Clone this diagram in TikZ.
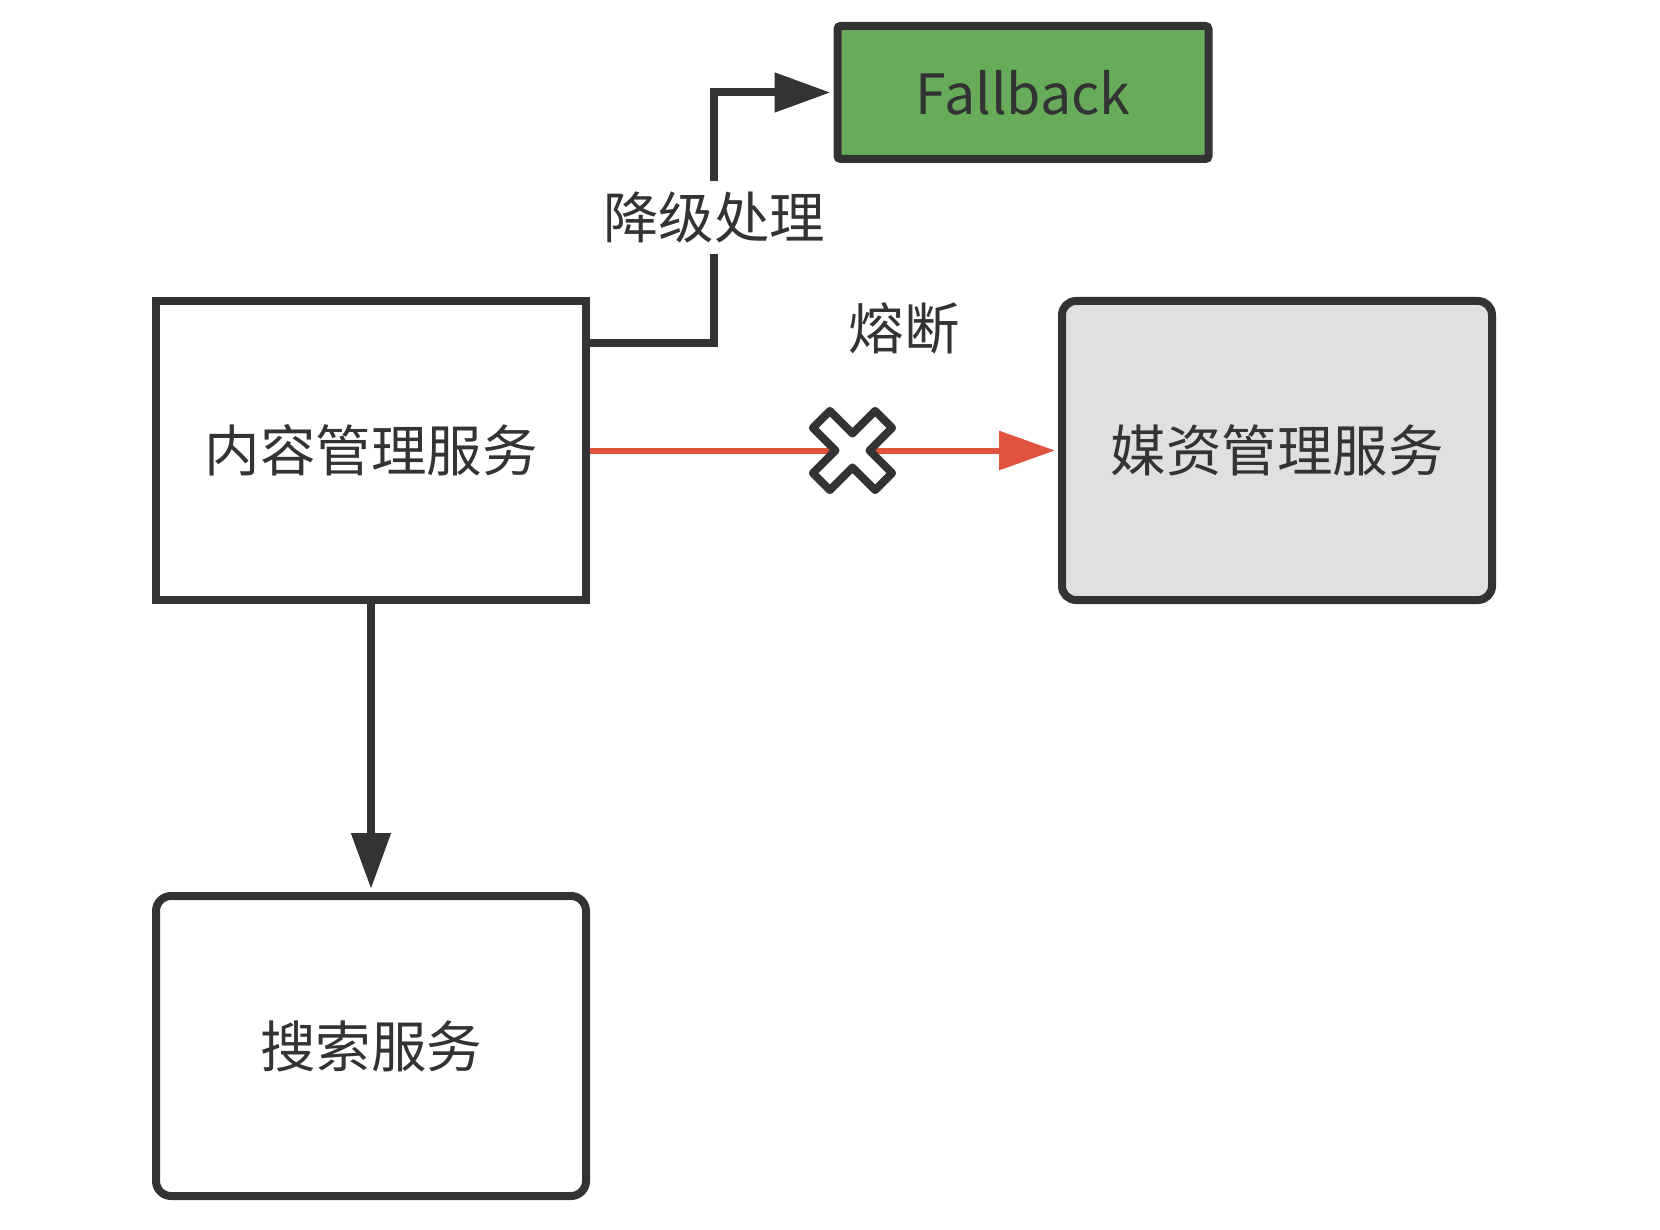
\documentclass[tikz,border=0pt]{standalone}
\usepackage{fontspec}
\setmainfont{Noto Sans CJK SC}
\usetikzlibrary{arrows.meta}
\definecolor{linegray}{HTML}{333333}
\definecolor{cutred}{HTML}{E0533F}
\definecolor{fbgreen}{HTML}{67AB5B}
\definecolor{mediagray}{HTML}{E0E0E0}
\newcommand{\bigtext}{\fontsize{55.5}{64}\selectfont}

\begin{document}
\begin{tikzpicture}[x=1pt,y=-1pt,
    box/.style={draw=linegray,line width=8pt,inner sep=0pt,minimum width=430pt,minimum height=299pt,text=linegray,font=\bigtext},
    conn/.style={draw=linegray,line width=8pt,shorten >=3pt,-{Triangle[length=56pt,width=38pt]}},
    label/.style={fill=white,text=linegray,font=\bigtext,inner xsep=2pt,inner ysep=11pt}]

      \useasboundingbox (0,0) rectangle (1660,1230);

      \begin{scope}[every node/.style={box}]
        \node (nr) at (371,450.5) {内容管理服务};
        \node[rounded corners=14pt,fill=mediagray] (mz) at (1277,450.5) {媒资管理服务};
        \node[rounded corners=15pt,minimum height=300pt] (ss) at (371,1046) {搜索服务};
        \node[rounded corners=3pt,fill=fbgreen,minimum width=371pt,minimum height=133pt] (fb) at (1023,92.5) {Fallback};
      \end{scope}

      \coordinate (cut) at (852.5,450.5);

      \begin{scope}[every node/.style={label}]
        \path (nr) edge[conn] (ss);
        \path (nr) edge[conn,draw=cutred,fill=cutred,line width=6pt] (mz);
        \draw[conn] ([yshift=107.5pt]nr.east) -- ++(124,0) |- node[pos=.25] {降级处理} (fb.west);
        \node[fill=none] (rd) at (904,328) {熔断};
      \end{scope}

      \draw[shift={(cut)},rotate=45,draw=linegray,fill=white,line width=8pt,line join=round]
        (-12,-44) -- (12,-44) -- (12,-12) -- (44,-12) -- (44,12) -- (12,12) -- (12,44)
        -- (-12,44) -- (-12,12) -- (-44,12) -- (-44,-12) -- (-12,-12) -- cycle;

    \end{tikzpicture}
\end{document}
